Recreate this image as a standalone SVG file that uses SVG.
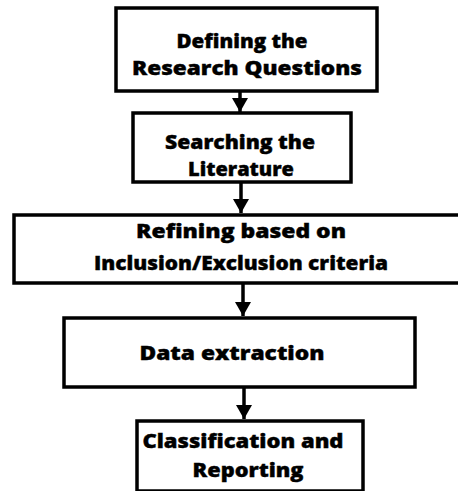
<svg xmlns="http://www.w3.org/2000/svg" width="458" height="491" viewBox="0 0 458 491">
  <style>
    .box { fill: #ffffff; stroke: #000000; stroke-width: 3.5; }
    .label { font-family: "Open Sans", "Liberation Sans", sans-serif; font-weight: 800; font-size: 20px; fill: #000000; stroke: #000000; stroke-width: 0.4; text-anchor: middle; }
    .link { stroke: #000000; stroke-width: 3.5; fill: none; marker-end: url(#arrow); }
  </style>
  <defs>
    <marker id="arrow" viewBox="0 0 14 16" refX="14" refY="8" markerWidth="14" markerHeight="16" markerUnits="userSpaceOnUse" orient="auto">
      <path d="M0,0 L14,8 L0,16 Z" fill="#000000"/>
    </marker>
  </defs>
  <rect width="458" height="491" fill="#ffffff"/>

  <g id="connectors">
    <line class="link" x1="240" y1="91" x2="240" y2="112"/>
    <line class="link" x1="241" y1="182" x2="241" y2="213"/>
    <line class="link" x1="243" y1="283" x2="243" y2="316"/>
    <line class="link" x1="244" y1="387" x2="244" y2="419"/>
  </g>

  <g id="define-questions">
    <rect class="box" x="116" y="8" width="261" height="83"/>
    <text class="label" x="242" y="48" textLength="131" lengthAdjust="spacingAndGlyphs">Defining the</text>
    <text class="label" x="247" y="75" textLength="230" lengthAdjust="spacingAndGlyphs">Research Questions</text>
  </g>

  <g id="search-literature">
    <rect class="box" x="133" y="113" width="218" height="69"/>
    <text class="label" x="240" y="149" textLength="150" lengthAdjust="spacingAndGlyphs">Searching the</text>
    <text class="label" x="241" y="176">Literature</text>
  </g>

  <g id="refine-criteria">
    <rect class="box" x="14" y="215" width="460" height="68"/>
    <text class="label" x="241" y="238" textLength="210" lengthAdjust="spacingAndGlyphs">Refining  based on</text>
    <text class="label" x="241" y="270" textLength="294" lengthAdjust="spacingAndGlyphs">Inclusion/Exclusion criteria</text>
  </g>

  <g id="data-extraction">
    <rect class="box" x="64" y="318" width="351" height="69"/>
    <text class="label" x="232" y="360" textLength="185" lengthAdjust="spacingAndGlyphs">Data extraction</text>
  </g>

  <g id="classify-report">
    <rect class="box" x="137" y="421" width="226" height="70"/>
    <text class="label" x="243" y="448" textLength="201" lengthAdjust="spacingAndGlyphs">Classification and</text>
    <text class="label" x="248" y="477" textLength="111" lengthAdjust="spacingAndGlyphs">Reporting</text>
  </g>
</svg>
